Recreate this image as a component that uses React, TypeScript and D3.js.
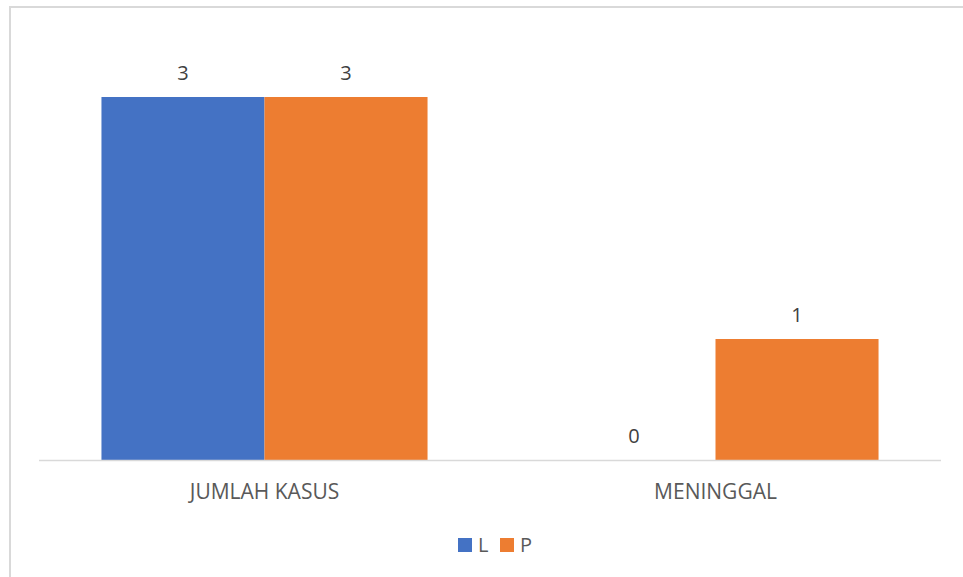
import React, { useEffect, useRef } from 'react';
import * as d3 from 'd3';

const categories = ['JUMLAH KASUS', 'MENINGGAL'];
const seriesNames = ['L', 'P'];
const valuesL = [3, 0];
const valuesP = [3, 1];
const colors = ['#4472c4', '#ed7d31'];

const width = 963;
const height = 577;

export default function App() {
  const svgRef = useRef<SVGSVGElement>(null);

  useEffect(() => {
    if (!svgRef.current) return;
    const svg = d3.select(svgRef.current);
    svg.selectAll('*').remove();

    const font = "'Open Sans', sans-serif";
    const margin = { left: 39, right: 22, top: 97, bottom: 117 };
    const plotW = width - margin.left - margin.right;
    const baseY = height - margin.bottom;

    // chart frame (clipped at right/bottom like the screenshot)
    svg.append('rect')
      .attr('x', 10).attr('y', 7)
      .attr('width', 970).attr('height', 600)
      .attr('fill', '#fff')
      .attr('stroke', '#d9d9d9')
      .attr('stroke-width', 2);

    const x0 = d3.scaleBand<string>()
      .domain(categories)
      .range([margin.left, margin.left + plotW])
      .paddingInner(0.277)
      .paddingOuter(0.1385);

    const x1 = d3.scaleBand<string>()
      .domain(seriesNames)
      .range([0, x0.bandwidth()]);

    const y = d3.scaleLinear().domain([0, 3]).range([baseY, margin.top]);

    const data = categories.map((c, i) => ({
      cat: c,
      vals: [valuesL[i], valuesP[i]],
    }));

    const groups = svg.append('g')
      .selectAll('g')
      .data(data)
      .join('g')
      .attr('transform', d => `translate(${x0(d.cat)},0)`);

    groups.selectAll('rect')
      .data(d => d.vals.map((v, k) => ({ k, v })))
      .join('rect')
      .attr('x', d => x1(seriesNames[d.k])!)
      .attr('y', d => y(d.v))
      .attr('width', x1.bandwidth())
      .attr('height', d => baseY - y(d.v))
      .attr('fill', d => colors[d.k]);

    groups.selectAll('text')
      .data(d => d.vals.map((v, k) => ({ k, v })))
      .join('text')
      .attr('x', d => x1(seriesNames[d.k])! + x1.bandwidth() / 2)
      .attr('y', d => y(d.v) - 17)
      .attr('text-anchor', 'middle')
      .attr('font-family', font)
      .attr('font-size', 20)
      .attr('fill', '#404040')
      .text(d => d.v);

    // baseline axis
    svg.append('line')
      .attr('x1', margin.left).attr('x2', margin.left + plotW)
      .attr('y1', baseY + 0.5).attr('y2', baseY + 0.5)
      .attr('stroke', '#d9d9d9')
      .attr('stroke-width', 1.5);

    svg.append('g')
      .selectAll('text')
      .data(categories)
      .join('text')
      .attr('x', d => x0(d)! + x0.bandwidth() / 2)
      .attr('y', baseY + 39)
      .attr('text-anchor', 'middle')
      .attr('font-family', font)
      .attr('font-size', 21)
      .attr('fill', '#595959')
      .text(d => d);

    // legend
    const legend = svg.append('g').attr('transform', 'translate(458,545)');
    const offsets = [0, 42];
    seriesNames.forEach((s, i) => {
      const g = legend.append('g').attr('transform', `translate(${offsets[i]},0)`);
      g.append('rect')
        .attr('x', 0).attr('y', -7)
        .attr('width', 14).attr('height', 14)
        .attr('fill', colors[i]);
      g.append('text')
        .attr('x', 20).attr('y', 7)
        .attr('font-family', font)
        .attr('font-size', 20)
        .attr('fill', '#595959')
        .text(s);
    });
  }, []);

  return (
    <div style={{ position: 'absolute', left: 0, top: 0 }}>
      <svg ref={svgRef} width={width} height={height} style={{ display: 'block' }} />
    </div>
  );
}
